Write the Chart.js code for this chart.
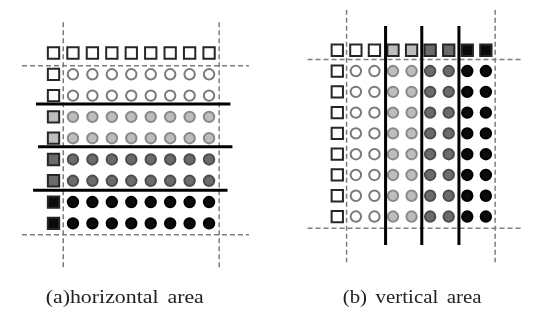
<!DOCTYPE html>
<html>
<head>
<meta charset="utf-8">
<script src="https://cdn.jsdelivr.net/npm/chart.js@4.4.1/dist/chart.umd.min.js"></script>
<style>
  body { margin: 0; background: #fff; }
  #wrap { position: relative; width: 533px; height: 313px; overflow: hidden; }
  #leftBox { position: absolute; left: 0; top: 0; width: 270px; height: 313px; }
  #rightBox { position: absolute; left: 270px; top: 0; width: 263px; height: 313px; }
  .cap {
    position: absolute; top: 286px; font-family: "Liberation Serif", "Times New Roman", serif;
    font-size: 19px; color: #222; white-space: nowrap; transform-origin: center; word-spacing: 3px;
  }
</style>
</head>
<body>
<div id="wrap">
  <div id="leftBox"><canvas id="leftChart" width="270" height="313"></canvas></div>
  <div id="rightBox"><canvas id="rightChart" width="263" height="313"></canvas></div>
  <div class="cap" id="capA">(a)horizontal area</div>
  <div class="cap" id="capB">(b) vertical area</div>
</div>
<script>
// grid: column 0 / row 0 hold the square markers, 1..8 hold the circles
const gridCols = [0, 1, 2, 3, 4, 5, 6, 7, 8];
const gridRows = [0, 1, 2, 3, 4, 5, 6, 7, 8];

// shade level 0 = white, 1 = light gray, 2 = dark gray, 3 = black
const leftRowShade = [0, 0, 1, 1, 2, 2, 3, 3];   // rows 1..8, panel (a)
const rightColShade = [0, 0, 1, 1, 2, 2, 3, 3];  // cols 1..8, panel (b)

const fillColors = ["#ffffff", "#bdbdbd", "#6b6b6b", "#0b0b0b"];
const ringColors = ["#7a7a7a", "#8a8a8a", "#4e4e4e", "#000000"];

// separator lines (data units of the grid)
const leftCuts = [[2.4, -0.9, 9.1], [4.4, -0.8, 9.2], [6.45, -1.05, 8.95]];  // y, x from, x to
const rightCuts = [[2.6, -1.17, 9.37], [4.55, -1.17, 9.37], [6.55, -1.17, 9.37]]; // x, y from, y to

// dashed frame lines
const leftFrameV = [[0.5, -1.45, 10.1], [8.52, -1.45, 10.1]];
const leftFrameH = [[0.6, -1.62, 10.05], [8.53, -1.62, 10.05]];
const rightFrameV = [[0.5, -1.95, 10.2], [8.5, -1.95, 10.2]];
const rightFrameH = [[0.45, -1.6, 10.0], [8.56, -1.6, 10.0]];

// axis windows so the grid lands where it sits in the figure
const leftWin = { xMin: -2.238, xMax: 10.62, yMin: -2.02, yMax: 11.74 };
const rightWin = { xMin: -3.085, xMax: 10.0, yMin: -1.937, yMax: 12.16 };

function squareSet(points, shade) {
  return {
    data: points, pointStyle: "rect", pointRadius: 8,
    backgroundColor: fillColors[shade], borderColor: "#262626", borderWidth: 2,
    showLine: false
  };
}
function circleSet(points, shade) {
  return {
    data: points, pointStyle: "circle", pointRadius: 5.2,
    backgroundColor: fillColors[shade], borderColor: ringColors[shade], borderWidth: 2,
    showLine: false
  };
}
function lineSet(points, dashed) {
  return {
    data: points, showLine: true, pointRadius: 0,
    borderColor: dashed ? "#7c7c7c" : "#000000",
    borderWidth: dashed ? 1.5 : 3,
    borderDash: dashed ? [5, 3] : [],
    fill: false
  };
}

function makeChart(id, datasets, win) {
  new Chart(document.getElementById(id).getContext("2d"), {
    type: "scatter",
    data: { datasets: datasets },
    options: {
      responsive: false,
      animation: false,
      layout: { padding: 0 },
      plugins: { legend: { display: false }, tooltip: { enabled: false } },
      scales: {
        x: { type: "linear", display: false, min: win.xMin, max: win.xMax },
        y: { type: "linear", display: false, reverse: true, min: win.yMin, max: win.yMax }
      }
    }
  });
}

// panel (a): shading changes by row
const leftSets = [];
leftCuts.forEach(c => leftSets.push(lineSet([{ x: c[1], y: c[0] }, { x: c[2], y: c[0] }], false)));
for (let s = 0; s < 4; s++) {
  const sq = [], ci = [];
  if (s === 0) gridCols.forEach(c => sq.push({ x: c, y: 0 }));
  gridRows.slice(1).forEach((r, i) => {
    if (leftRowShade[i] !== s) return;
    sq.push({ x: 0, y: r });
    gridCols.slice(1).forEach(c => ci.push({ x: c, y: r }));
  });
  leftSets.push(squareSet(sq, s));
  leftSets.push(circleSet(ci, s));
}
leftFrameV.forEach(f => leftSets.push(lineSet([{ x: f[0], y: f[1] }, { x: f[0], y: f[2] }], true)));
leftFrameH.forEach(f => leftSets.push(lineSet([{ x: f[1], y: f[0] }, { x: f[2], y: f[0] }], true)));
makeChart("leftChart", leftSets, leftWin);

// panel (b): shading changes by column
const rightSets = [];
rightCuts.forEach(c => rightSets.push(lineSet([{ x: c[0], y: c[1] }, { x: c[0], y: c[2] }], false)));
for (let s = 0; s < 4; s++) {
  const sq = [], ci = [];
  if (s === 0) {
    sq.push({ x: 0, y: 0 });
    gridRows.slice(1).forEach(r => sq.push({ x: 0, y: r }));
  }
  gridCols.slice(1).forEach((c, i) => {
    if (rightColShade[i] !== s) return;
    sq.push({ x: c, y: 0 });
    gridRows.slice(1).forEach(r => ci.push({ x: c, y: r }));
  });
  rightSets.push(squareSet(sq, s));
  rightSets.push(circleSet(ci, s));
}
rightFrameV.forEach(f => rightSets.push(lineSet([{ x: f[0], y: f[1] }, { x: f[0], y: f[2] }], true)));
rightFrameH.forEach(f => rightSets.push(lineSet([{ x: f[1], y: f[0] }, { x: f[2], y: f[0] }], true)));
makeChart("rightChart", rightSets, rightWin);

// captions: centre them under each panel, stretched like the scanned figure
function placeCaption(id, centerX, stretch) {
  const el = document.getElementById(id);
  const w = el.offsetWidth;
  el.style.left = (centerX - w / 2) + "px";
  el.style.transform = "scaleX(" + stretch + ")";
}
placeCaption("capA", 125, 1.15);
placeCaption("capB", 412, 1.1);
</script>
</body>
</html>
